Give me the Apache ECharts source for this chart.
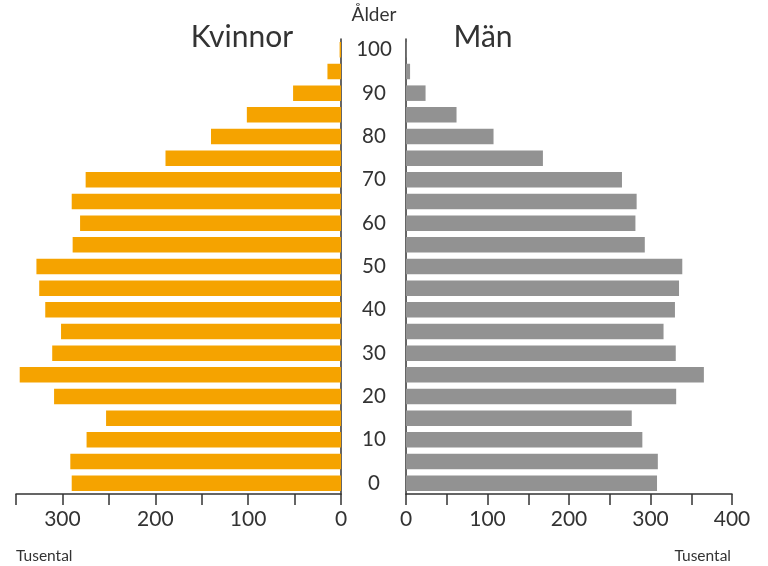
<!DOCTYPE html>
<html>
<head>
<meta charset="utf-8">
<script src="https://cdn.jsdelivr.net/npm/echarts@6/dist/echarts.min.js"></script>
<style>html,body{margin:0;padding:0;background:#fff}#c{width:768px;height:566px}</style>
</head>
<body>
<div id="c"></div>
<script>
const ages = ['0','5','10','15','20','25','30','35','40','45','50','55','60','65','70','75','80','85','90','95','100'];
const kvinnor = [290, 291.5, 274, 253, 309, 346, 311, 301.5, 318.5, 325, 328, 289, 281, 290, 275, 189, 140, 101.4, 51.6, 14.6, 1.5];
const man = [308, 309, 290, 277, 331.5, 365.5, 331, 316, 330, 335, 339, 293, 281.5, 283, 265, 168, 107.4, 62, 24, 5, 0.5];
const leftTicks = [0, 100, 200, 300];
const rightTicks = [0, 100, 200, 300, 400];

const FONT = 'Lato, "Open Sans", sans-serif';
const TXT = '#333333';
const chart = echarts.init(document.getElementById('c'), null, {renderer: 'canvas'});
const axisLineStyle = {show: true, lineStyle: {color: '#333333', width: 1.5}};
chart.setOption({
  animation: false,
  backgroundColor: '#ffffff',
  textStyle: {fontFamily: FONT},
  title: [
    {text: 'Kvinnor', left: 237, top: 17, textAlign: 'center', textStyle: {fontFamily: FONT, fontSize: 30, fontWeight: 'normal', color: TXT}},
    {text: 'Män', left: 478, top: 17, textAlign: 'center', textStyle: {fontFamily: FONT, fontSize: 30, fontWeight: 'normal', color: TXT}},
    {text: 'Ålder', left: 369, top: 0, textAlign: 'center', textStyle: {fontFamily: FONT, fontSize: 19, fontWeight: 'normal', color: TXT}},
    {text: 'Tusental', left: 11, top: 543, textStyle: {fontFamily: FONT, fontSize: 15.5, fontWeight: 'normal', color: TXT}},
    {text: 'Tusental', right: 32, top: 543, textStyle: {fontFamily: FONT, fontSize: 15.5, fontWeight: 'normal', color: TXT}}
  ],
  grid: [
    {left: 16, right: 427, top: 39, bottom: 72},
    {left: 406, right: 36, top: 39, bottom: 72}
  ],
  xAxis: [
    {gridIndex: 0, type: 'value', inverse: true, min: 0, max: 350, interval: 50,
     axisLine: axisLineStyle, axisTick: {show: true, length: 11, lineStyle: {color: '#333333', width: 1.5}},
     splitLine: {show: false},
     axisLabel: {fontFamily: FONT, fontSize: 21, color: TXT, margin: 15,
       formatter: v => leftTicks.includes(v) ? String(v) : ''}},
    {gridIndex: 1, type: 'value', min: 0, max: 400, interval: 50,
     axisLine: axisLineStyle, axisTick: {show: true, length: 11, lineStyle: {color: '#333333', width: 1.5}},
     splitLine: {show: false},
     axisLabel: {fontFamily: FONT, fontSize: 21, color: TXT, margin: 15,
       formatter: v => rightTicks.includes(v) ? String(v) : ''}}
  ],
  yAxis: [
    {gridIndex: 0, type: 'category', data: ages, position: 'right',
     axisLine: axisLineStyle, axisTick: {show: false}, axisLabel: {show: false}},
    {gridIndex: 1, type: 'category', data: ages, position: 'left',
     axisLine: axisLineStyle, axisTick: {show: false},
     axisLabel: {show: true, interval: 1, align: 'center', margin: 32, fontFamily: FONT, fontSize: 20.5, color: TXT}}
  ],
  series: [
    {type: 'bar', name: 'Kvinnor', xAxisIndex: 0, yAxisIndex: 0, data: kvinnor, barWidth: 15.5, itemStyle: {color: '#f5a300'}},
    {type: 'bar', name: 'Män', xAxisIndex: 1, yAxisIndex: 1, data: man, barWidth: 15.5, itemStyle: {color: '#929292'}}
  ]
});
</script>
</body>
</html>
